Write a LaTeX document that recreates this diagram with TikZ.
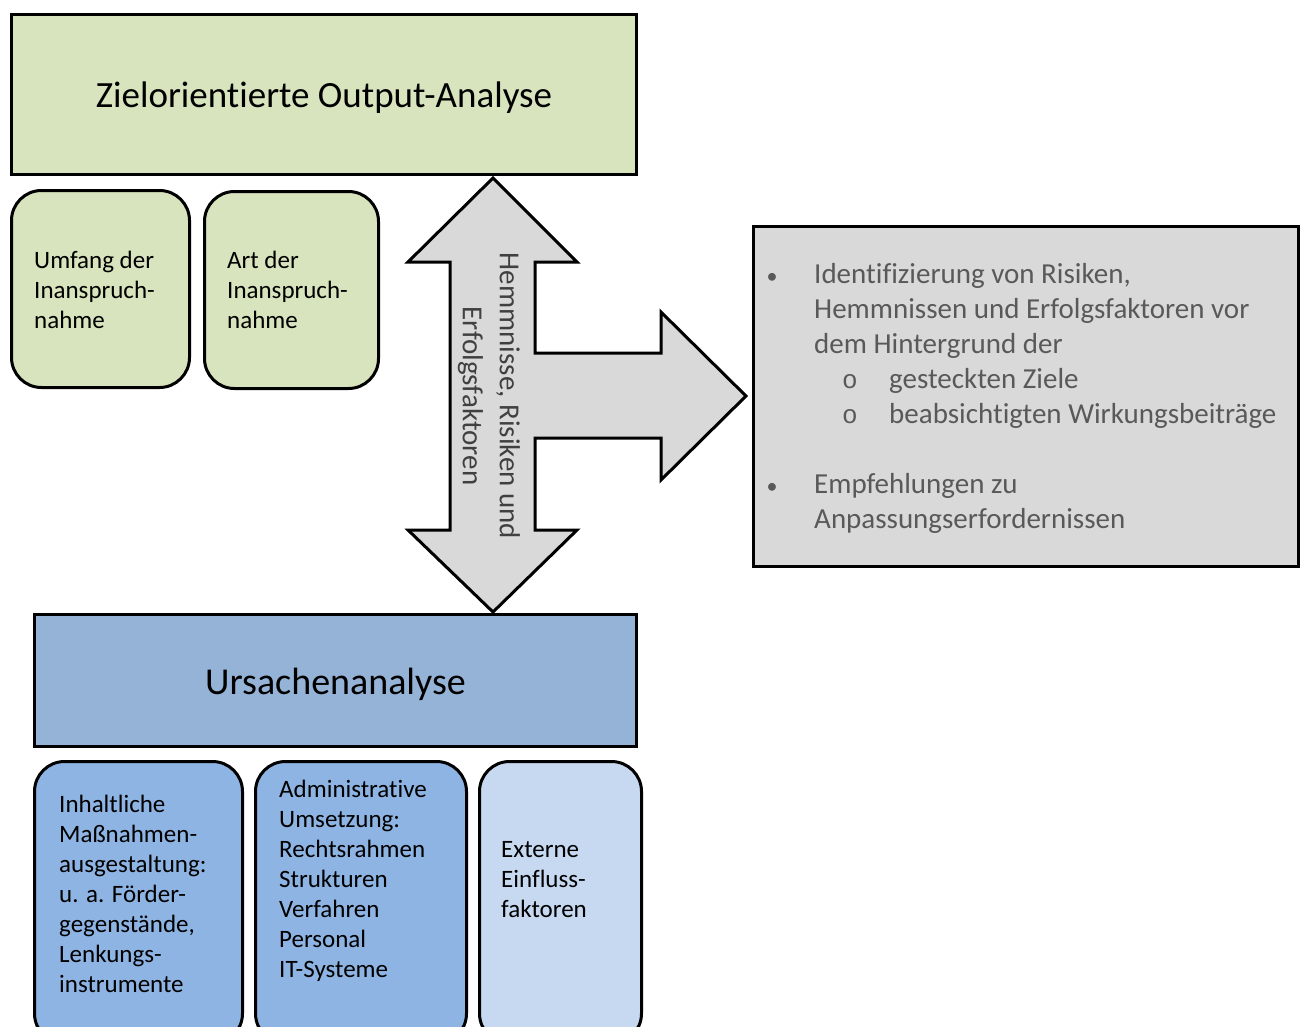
\documentclass[tikz,border=0pt]{standalone}
\usepackage{fontspec}
\setmainfont{Carlito}[Ligatures=NoCommon,RawFeature={-liga;-clig;-calt}]
\newfontfamily\monof{Liberation Mono}
\definecolor{zoagreen}{HTML}{D7E4BD}
\definecolor{arrgray}{HTML}{D9D9D9}
\definecolor{ursblue}{HTML}{95B3D7}
\definecolor{boxblue}{HTML}{8EB4E3}
\definecolor{lightblue}{HTML}{C6D9F1}
\definecolor{txtgray}{HTML}{595959}
\definecolor{arrtxt}{HTML}{404040}
\begin{document}
\begin{tikzpicture}[x=1pt,y=-1pt]
\useasboundingbox (0,0) rectangle (1301,1026);
\clip (0,0) rectangle (1301,1026);
\tikzset{
  sqbox/.style={draw=black, line width=3pt, inner sep=0pt},
  rbox/.style={draw=black, line width=3pt, rounded corners=30pt, inner sep=0pt},
  smalltxt/.style={inner sep=0pt, anchor=base west, align=left, font=\fontsize{25}{30}\selectfont},
  righttxt/.style={inner sep=0pt, anchor=base west, align=left, text=txtgray, font=\fontsize{29}{35}\selectfont},
  subbullet/.style={inner sep=0pt, anchor=base, text=txtgray, font=\monof\fontsize{26}{26}\selectfont},
  bullet/.style={inner sep=0pt, anchor=base, text=txtgray, font=\fontsize{22}{22}\selectfont},
}
% top box
\node[sqbox, fill=zoagreen, minimum width=625pt, minimum height=160pt] (zoa) at (324,94.5) {};
\node[inner sep=0pt, anchor=base, font=\fontsize{37}{44}\selectfont] (zoat) at (324,107) {Zielorientierte Output-Analyse};
% green rounded boxes
\node[rbox, fill=zoagreen, minimum width=178pt, minimum height=197pt] (g1) at (100.5,289) {};
\node[rbox, fill=zoagreen, minimum width=174pt, minimum height=197pt] (g2) at (291.5,290) {};
\node[smalltxt] (g1t) at (34,328) {Umfang der\\Inanspruch-\\nahme};
\node[smalltxt] (g2t) at (227,328) {Art der\\Inanspruch-\\nahme};
% arrow shape
\draw[fill=arrgray, line width=3pt, miter limit=10]
  (493,178) -- (577,262) -- (535,262) -- (535,353) -- (661,353) -- (661,312)
  -- (746,396) -- (661,480) -- (661,438) -- (535,438) -- (535,530) -- (577,530)
  -- (493,612) -- (408,530) -- (450,530) -- (450,262) -- (408,262) -- cycle;
\node[inner sep=0pt, rotate=-90, align=center, text=arrtxt,
      font=\fontsize{29}{37}\selectfont] (arrt) at (489,396)
  {Hemmnisse, Risiken und\\Erfolgsfaktoren};
% right gray box
\node[sqbox, fill=arrgray, minimum width=545pt, minimum height=340pt] (res) at (1026,396.5) {};
\node[bullet] (b1) at (772,283) {•};
\node[righttxt] (r1) at (814,353) {Identifizierung von Risiken,\\Hemmnissen und Erfolgsfaktoren vor\\dem Hintergrund der};
\node[subbullet] (s1) at (850,388) {o};
\node[righttxt] (r2) at (889,388) {gesteckten Ziele};
\node[subbullet] (s2) at (850,423) {o};
\node[righttxt] (r3) at (889,423) {beabsichtigten Wirkungsbeiträge};
\node[bullet] (b2) at (772,493) {•};
\node[righttxt] (r4) at (814,528) {Empfehlungen zu\\Anpassungserfordernissen};
% bottom box
\node[sqbox, fill=ursblue, minimum width=602pt, minimum height=132pt] (urs) at (335.5,680.5) {};
\node[inner sep=0pt, anchor=base, font=\fontsize{38}{44}\selectfont] (urst) at (335.5,694) {Ursachenanalyse};
% blue rounded boxes
\node[rbox, fill=boxblue, minimum width=208pt, minimum height=282pt] (u1) at (138.5,902.5) {};
\node[rbox, fill=boxblue, minimum width=211pt, minimum height=282pt] (u2) at (361,902.5) {};
\node[rbox, fill=lightblue, minimum width=162pt, minimum height=282pt] (u3) at (560.5,902.5) {};
\node[smalltxt] (u1t) at (59,992) {Inhaltliche\\Maßnahmen-\\ausgestaltung:\\u. a. Förder-\\gegenstände,\\Lenkungs-\\instrumente};
\node[smalltxt] (u2t) at (279,977) {Administrative\\Umsetzung:\\Rechtsrahmen\\Strukturen\\Verfahren\\Personal\\IT-Systeme};
\node[smalltxt] (u3t) at (501,917) {Externe\\Einfluss-\\faktoren};
\end{tikzpicture}
\end{document}
